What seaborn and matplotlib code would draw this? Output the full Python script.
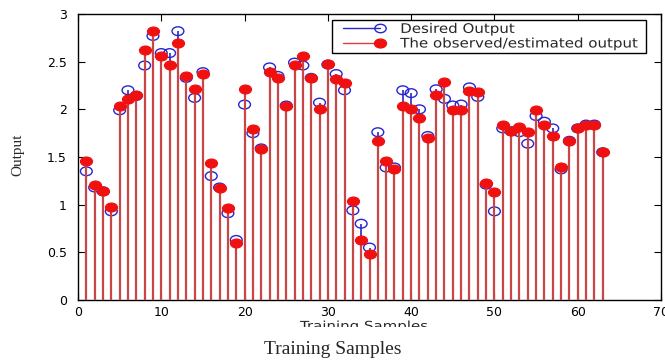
import numpy as np
import pandas as pd
import seaborn as sns
import matplotlib.pyplot as plt
from matplotlib.path import Path
from matplotlib.lines import Line2D
from matplotlib.patches import Rectangle
from matplotlib.legend_handler import HandlerLine2D
from matplotlib.patheffects import AbstractPathEffect
from matplotlib.transforms import Affine2D

# Training samples and the two output series
samples = list(range(1, 64))
desired = [1.35, 1.18, 1.14, 0.93, 1.99, 2.20, 2.14, 2.46, 2.77, 2.59,
           2.59, 2.82, 2.33, 2.12, 2.39, 1.30, 1.18, 0.91, 0.63, 2.05,
           1.75, 1.59, 2.44, 2.35, 2.04, 2.49, 2.46, 2.33, 2.07, 2.47,
           2.37, 2.20, 0.94, 0.80, 0.55, 1.76, 1.39, 1.39, 2.20, 2.17,
           2.00, 1.72, 2.21, 2.11, 2.04, 2.05, 2.23, 2.13, 1.21, 0.93,
           1.80, 1.77, 1.76, 1.64, 1.93, 1.87, 1.80, 1.37, 1.67, 1.80,
           1.84, 1.84, 1.55]
estimated = [1.46, 1.21, 1.14, 0.98, 2.04, 2.11, 2.15, 2.62, 2.82, 2.56,
             2.47, 2.70, 2.35, 2.21, 2.37, 1.44, 1.18, 0.97, 0.60, 2.21,
             1.79, 1.58, 2.39, 2.33, 2.04, 2.47, 2.56, 2.33, 2.00, 2.48,
             2.32, 2.28, 1.04, 0.63, 0.48, 1.67, 1.46, 1.37, 2.04, 2.00,
             1.91, 1.70, 2.15, 2.29, 1.99, 1.99, 2.19, 2.18, 1.23, 1.13,
             1.84, 1.77, 1.81, 1.76, 1.99, 1.84, 1.72, 1.39, 1.67, 1.80,
             1.84, 1.84, 1.55]
x_ticks = [0, 10, 20, 30, 40, 50, 60, 70]
y_ticks = [0, 0.5, 1, 1.5, 2, 2.5, 3]
y_tick_labels = ["0", "0.5", "1", "1.5", "2", "2.5", "3"]
series_labels = ["Desired Output", "The observed/estimated output"]

df = pd.DataFrame({"sample": samples, "desired": desired, "estimated": estimated})

sns.set_theme(style="white")
plt.rcParams["font.family"] = ["DejaVu Sans"]

BLUE = "#2626d0"
BLUE_STEM = "#3a3ac4"
RED = "#f01010"
RED_STEM = "#c84646"


class StretchX(AbstractPathEffect):
    """Widen glyph outlines horizontally about the text origin."""

    def __init__(self, sx):
        super().__init__()
        self.sx = sx

    def draw_path(self, renderer, gc, tpath, affine, rgbFace=None):
        renderer.draw_path(gc, tpath, Affine2D().scale(self.sx, 1.0) + affine, rgbFace)


class EndMarkerHandler(HandlerLine2D):
    """Legend line with a leading gap and the marker at its right end."""

    def create_artists(self, legend, orig_handle, xdescent, ydescent,
                       width, height, fontsize, trans):
        arts = super().create_artists(legend, orig_handle, xdescent, ydescent,
                                      width, height, fontsize, trans)
        lead = 0.6 * fontsize
        if len(arts) == 1:
            ln = arts[0]
            xs = np.asarray(ln.get_xdata(), dtype=float)
            ln.set_xdata(np.linspace(xs[0] + lead, xs[-1], len(xs)))
            ln.set_markevery([len(xs) - 1])
        else:
            xs = np.asarray(arts[0].get_xdata(), dtype=float)
            arts[0].set_xdata(np.linspace(xs[0] + lead, xs[-1], len(xs)))
            arts[1].set_xdata([xs[-1]])
        return arts


# wide elliptical marker
circ = Path.unit_circle()
ellipse = Path(circ.vertices * np.array([1.35, 1.0]), circ.codes)

fig = plt.figure(figsize=(6.65, 3.6), dpi=100)
ax = fig.add_axes([78 / 665, 60 / 360, 583 / 665, 286 / 360])

# stems and markers
ax.vlines(df["sample"], 0, df["desired"], color=BLUE_STEM, lw=1.3, zorder=2)
sns.scatterplot(data=df, x="sample", y="desired", marker=ellipse, s=72,
                facecolors="none", edgecolor=BLUE, linewidth=1.0,
                zorder=3, ax=ax, legend=False)
ax.vlines(df["sample"], 0, df["estimated"], color=RED_STEM, lw=1.6, zorder=4)
sns.scatterplot(data=df, x="sample", y="estimated", marker=ellipse, s=76,
                color=RED, edgecolor=RED, linewidth=0.8,
                zorder=5, ax=ax, legend=False)

ax.set_xlim(0, 70)
ax.set_ylim(0, 3)
ax.set_xticks(x_ticks)
ax.set_xticklabels([str(v) for v in x_ticks])
ax.set_yticks(y_ticks)
ax.set_yticklabels(y_tick_labels)
ax.set_xlabel("")
ax.set_ylabel("")
ax.tick_params(direction="in", length=5, width=0.8, colors="black",
               labelsize=9, top=True, right=True, bottom=True, left=True)
ax.tick_params(axis="x", pad=4)
ax.tick_params(axis="y", pad=8)
for tk in ax.yaxis.get_major_ticks():
    tk.tick2line.set_color("#d8d8d8")
for sp in ax.spines.values():
    sp.set_color("black")
    sp.set_linewidth(1.0)

h_des = Line2D([], [], color=BLUE, lw=1.0, marker=ellipse, ms=8.2,
               mfc="none", mec=BLUE, mew=1.0)
h_est = Line2D([], [], color="#d84040", lw=1.0, marker=ellipse, ms=8.6,
               mfc=RED, mec=RED)
leg = ax.legend([h_des, h_est], series_labels,
                loc="upper left",
                bbox_to_anchor=((332 - 78) / 583, (300 - 55) / 286,
                                (646 - 332) / 583, 35 / 286),
                mode="expand", borderaxespad=0, fontsize=9.5,
                handlelength=3.4, handletextpad=1.55, labelspacing=0.12,
                borderpad=0.22, fancybox=False, framealpha=1,
                edgecolor="black", handler_map={Line2D: EndMarkerHandler()})
leg.get_frame().set_linewidth(1.0)
leg.set_zorder(10)
for txt in leg.get_texts():
    txt.set_path_effects([StretchX(1.14)])

# y-axis title
fig.text(18 / 665, 1 - 155 / 360, "Output", rotation=90, ha="center",
         va="center", fontsize=11, family=["Liberation Serif"])

# clipped axis title underneath the tick labels
xl = fig.text(300 / 665, 1 - 320 / 360, "Training Samples", ha="left",
              va="top", fontsize=9, family=["DejaVu Sans"], zorder=3)
xl.set_path_effects([StretchX(1.2)])
fig.patches.append(Rectangle((0, 0), 1, 1 - 327 / 360, transform=fig.transFigure,
                             facecolor="white", edgecolor="none", zorder=8))
fig.text(333 / 665, 1 - 350 / 360, "Training Samples", ha="center",
         va="center", fontsize=14, family=["Liberation Serif"], zorder=9)

fig.savefig("out.png", dpi=100)
